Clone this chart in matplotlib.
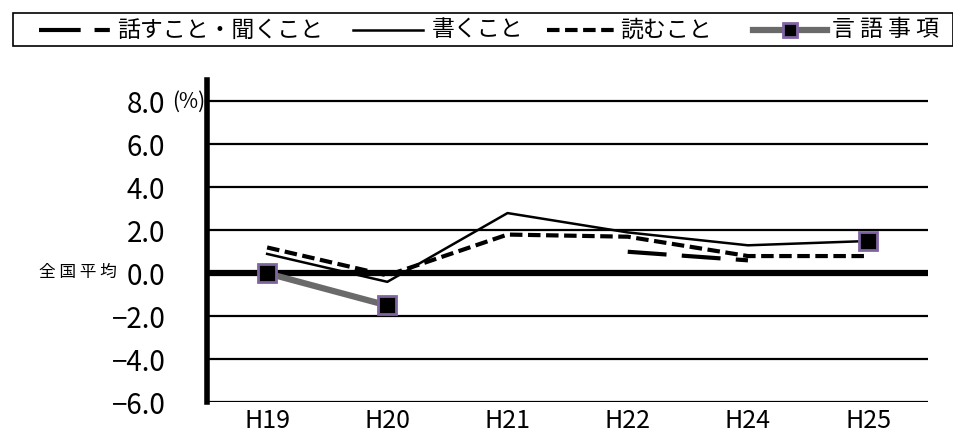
import numpy as np
import matplotlib
matplotlib.use("Agg")
from matplotlib import pyplot as plt
from matplotlib.lines import Line2D
from matplotlib.patches import Rectangle

plt.rcParams['font.family'] = ['Noto Sans CJK JP', 'DejaVu Sans']
plt.rcParams['lines.scale_dashes'] = False

# 年度ごとの全国平均との差 (%)
nendo = ["H19", "H20", "H21", "H22", "H24", "H25"]
hanasu = [np.nan, np.nan, np.nan, 1.0, 0.6, np.nan]
kaku = [0.9, -0.4, 2.8, 1.9, 1.3, 1.5]
yomu = [1.2, -0.1, 1.8, 1.7, 0.8, 0.8]
gengo = [0.0, -1.5, np.nan, np.nan, np.nan, 1.5]
yticks = [-6, -4, -2, 0, 2, 4, 6, 8]

W, H = 954, 441
fig = plt.figure(figsize=(W / 100, H / 100), dpi=100)
ax = fig.add_axes([0.217, 0.088, 0.756, 0.731])
x = np.arange(len(nendo))

# 目盛り線 (0 は太線)
for v in yticks:
    if v == 0:
        ax.axhline(v, color="black", lw=4.5, zorder=2)
    else:
        ax.axhline(v, color="black", lw=1.6, zorder=1)

sty_hanasu = dict(color="black", lw=3, dashes=(28, 11))
sty_kaku = dict(color="black", lw=1.8)
sty_yomu = dict(color="black", lw=3, dashes=(9, 4))
sty_gengo = dict(color="#6a6a6a", lw=4.5, marker="s", markersize=13,
                 markerfacecolor="black", markeredgecolor="#8064a2",
                 markeredgewidth=2)

ax.plot(x, hanasu, zorder=4, **sty_hanasu)
ax.plot(x, kaku, zorder=4, **sty_kaku)
ax.plot(x, yomu, zorder=4, **sty_yomu)
ax.plot(x, gengo, zorder=5, **sty_gengo)

ax.set_xlim(-0.5, 5.5)
ax.set_ylim(-6, 9)
ax.set_xticks(x)
ax.set_xticklabels(nendo, fontsize=18)
ax.set_yticks(yticks)
ax.set_yticklabels(["%.1f" % v if v >= 0 else "\u2212%.1f" % -v for v in yticks],
                   fontsize=20)
ax.tick_params(axis="y", length=0, pad=30)
ax.tick_params(axis="x", length=0, pad=4)
for s in ["top", "right", "bottom"]:
    ax.spines[s].set_visible(False)
ax.spines["left"].set_linewidth(4)

ax.text(-0.003, 8, "(%)", fontsize=15, ha="right", va="center",
        transform=ax.get_yaxis_transform())
fig.text(117 / W, 1 - 272 / H, "全 国 平 均", fontsize=12, ha="right",
         va="center")

# 凡例 (枠と線・文字を手で配置)
fig.add_artist(Rectangle((13 / W, 1 - 46 / H), 940 / W, 33 / H,
                         transform=fig.transFigure, fill=False,
                         edgecolor="black", lw=1.2))
ly = 1 - 30 / H
entries = [
    (39, 110, 117, "話すこと・聞くこと", sty_hanasu),
    (353, 423, 432, "書くこと", sty_kaku),
    (547, 617, 620, "読むこと", sty_yomu),
    (753, 827, 832, "言 語 事 項", sty_gengo),
]
for x0, x1, tx, label, sty in entries:
    sty = dict(sty)
    if "marker" in sty:
        fig.add_artist(Line2D([x0 / W, x1 / W], [ly, ly],
                              transform=fig.transFigure,
                              **{k: v for k, v in sty.items()
                                 if not k.startswith("marker")}))
        fig.add_artist(Line2D([(x0 + x1) / 2 / W], [ly], lw=0,
                              transform=fig.transFigure,
                              marker=sty["marker"], markersize=10,
                              markerfacecolor=sty["markerfacecolor"],
                              markeredgecolor=sty["markeredgecolor"],
                              markeredgewidth=sty["markeredgewidth"]))
    else:
        if "dashes" in sty and sty["dashes"][0] > 20:
            sty["dashes"] = (30, 10, 11, 10)
        fig.add_artist(Line2D([x0 / W, x1 / W], [ly, ly],
                              transform=fig.transFigure, **sty))
    fig.text(tx / W, ly, label, fontsize=16.5, ha="left", va="center")

fig.savefig("out.png", dpi=100)
